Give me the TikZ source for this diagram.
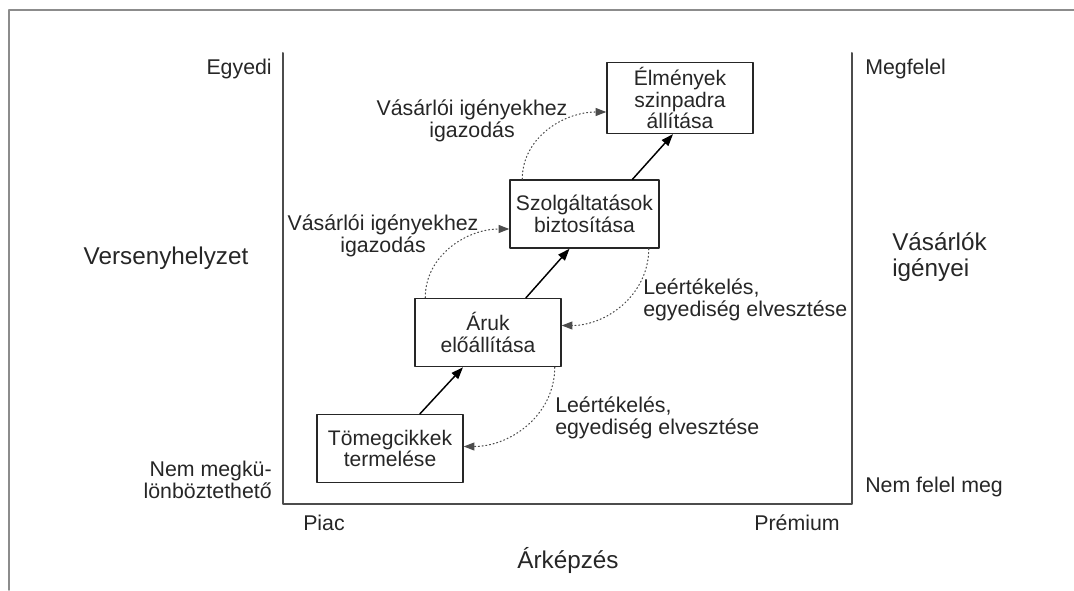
\documentclass[tikz,border=0pt]{standalone}
\usepackage{fontspec}
\setmainfont{Liberation Sans}
\usetikzlibrary{arrows.meta,calc}

\begin{document}
\begin{tikzpicture}[x=0.75pt, y=0.75pt, line cap=round, line join=round,
    box/.style={draw=black!85, line width=1.1pt, minimum width=109.5pt, minimum height=51pt,
        inner xsep=4.5pt, align=center, font=\fontsize{15.8}{16.3}\selectfont, text=black!85},
    lbl/.style={inner sep=0pt, font=\fontsize{16}{16.8}\selectfont, text=black!85},
    ttl/.style={inner sep=0pt, font=\fontsize{18.2}{19.5}\selectfont, text=black!85},
    step arrow/.style={line width=1.1pt, -{Triangle[length=9pt,width=6.5pt]}},
    back arrow/.style={dotted, line width=0.8pt, black!70, -{Triangle[length=8pt,width=6pt]}}]

    \useasboundingbox (0,0) rectangle (1074,590);

    % frame
    \draw[black!45, line width=1.2pt] (9,0) -- (9,580) -- (1074,580);
    \draw[black!70, line width=1.5pt] (283,537) -- (283,86) -- (852,86) -- (852,537);

    % axes
    \node[lbl, anchor=east] (egyedi) at (272,521) {Egyedi};
    \node[lbl, anchor=east, align=right] (nemmeg) at (272,110) {Nem megkü-\\lönböztethető};
    \node[ttl] (verseny) at (166,332) {Versenyhelyzet};
    \node[lbl, anchor=west] (megfelel) at (865,521) {Megfelel};
    \node[lbl, anchor=west] (nemfelel) at (865,103) {Nem felel meg};
    \node[ttl, anchor=west, align=left] (igenyei) at (892,333) {Vásárlók\\igényei};
    \node[lbl, anchor=west] (piac) at (303,67) {Piac};
    \node[lbl, anchor=east] (premium) at (840,67) {Prémium};
    \node[ttl] (arkepzes) at (568,30) {Árképzés};

    % stages
    \node[box] (tomeg) at (390,141.5) {Tömegcikkek\\termelése};
    \node[box] (aruk) at (488,257.5) {Áruk\\előállítása};
    \node[box] (szolg) at (584.5,376) {Szolgáltatások\\biztosítása};
    \node[box] (elm) at (680,492) {Élmények\\szinpadra\\állítása};

    \draw[step arrow] ($(tomeg.north)+(30,0)$) -- ($(aruk.south)+(-25,0)$);
    \draw[step arrow] ($(aruk.north)+(38,0)$) -- ($(szolg.south)+(-15,0)$);
    \draw[step arrow] ($(szolg.north)+(48,0)$) -- ($(elm.south)+(-7,0)$);

    \draw[back arrow] ($(aruk.north west)+(11,0)$) to[out=90, in=180] ($(szolg.west)+(0,-15)$);
    \draw[back arrow] ($(szolg.north west)+(13,0)$) to[out=90, in=180] ($(elm.west)+(0,-14)$);
    \draw[back arrow] ($(szolg.south east)+(-11,0)$) to[out=-90, in=0] ($(aruk.east)+(0,7)$);
    \draw[back arrow] ($(aruk.south east)+(-7,0)$) to[out=-90, in=0] ($(tomeg.east)+(0,2)$);

    \node[lbl, align=center] (igazodas1) at (383,354) {Vásárlói igényekhez\\igazodás};
    \node[lbl, align=center] (igazodas2) at (472,469) {Vásárlói igényekhez\\igazodás};
    \node[lbl, anchor=west, align=left] (leert1) at (555,172) {Leértékelés,\\egyediség elvesztése};
    \node[lbl, anchor=west, align=left] (leert2) at (643,290) {Leértékelés,\\egyediség elvesztése};

\end{tikzpicture}
\end{document}
